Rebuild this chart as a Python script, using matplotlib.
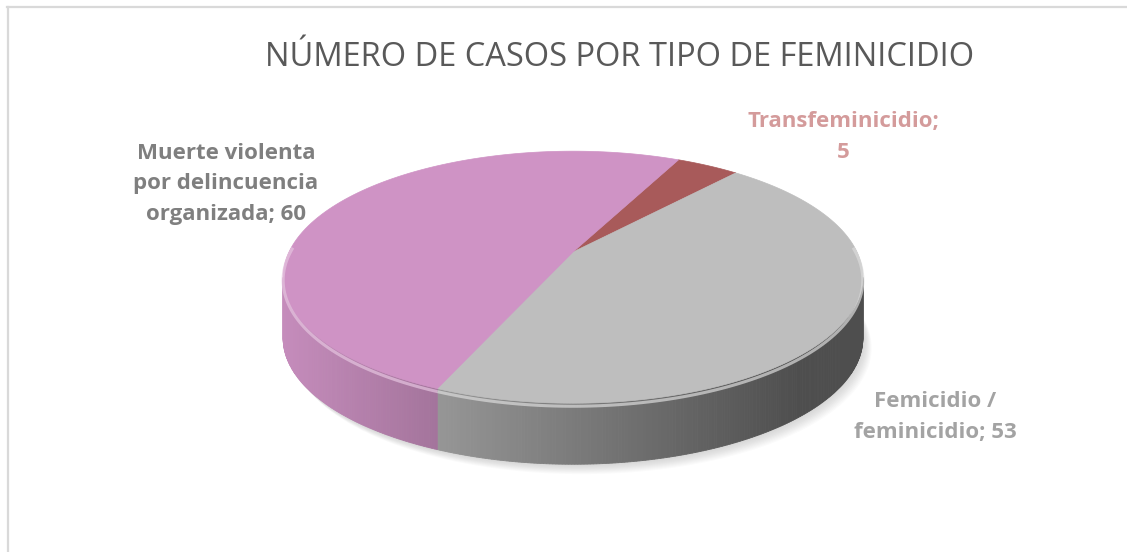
import numpy as np
import matplotlib.pyplot as plt
from matplotlib.patches import Polygon
from matplotlib.lines import Line2D
import matplotlib.colors as mcolors

# datos
categorias = ['Transfeminicidio', 'Femicidio / feminicidio',
              'Muerte violenta por delincuencia organizada']
casos = [5, 53, 60]
etiquetas = ['Transfeminicidio;\n{}', 'Femicidio /\nfeminicidio; {}',
             'Muerte violenta\npor delincuencia\norganizada; {}']
colores = ['#A85A5A', '#BEBEBE', '#CF93C5']
colores_texto = ['#D49B9B', '#A3A3A3', '#7F7F7F']
titulo = 'NÚMERO DE CASOS POR TIPO DE FEMINICIDIO'

# geometria del pastel 3D (en pixeles)
CX, CY, A, B, K, DEPTH = 573, 252, 284, 121, 0.2, 61
inicio = 26.0


def proy(theta):
    t = np.radians(theta)
    u, f = np.sin(t), np.cos(t)
    s = 1 / (1 + K * f)
    return CX + A * u * s, CY - B * f * s


def sombra(x):
    return np.clip(0.95 - 0.54 * (x - 285) / 515, 0.41, 0.95)


fig = plt.figure(figsize=(11.27, 5.52), dpi=100)
ax = fig.add_axes([0, 0, 1, 1])
ax.set_xlim(0, 1127)
ax.set_ylim(552, 0)
ax.axis('off')

total = sum(casos)
angulos = np.cumsum([0] + [c / total * 360 for c in casos]) + inicio

# sombra suave
th = np.linspace(0, 360, 200)
ex, ey = proy(th)
for d in range(1, 12):
    ax.add_patch(Polygon(np.column_stack([ex + d * 0.8, ey + DEPTH + d * 0.9]),
                         closed=True, facecolor='#909090', edgecolor='none',
                         alpha=0.035, zorder=1))

# lateral visible
t_vis = np.degrees(np.arccos(-K))
vis0, vis1 = t_vis, 360 - t_vis
for i in range(len(casos)):
    for off in (0, 360):
        a0 = max(angulos[i], vis0 + off)
        a1 = min(angulos[i + 1], vis1 + off)
        if a1 <= a0:
            continue
        ts = np.linspace(a0, a1, max(int((a1 - a0) * 2), 2))
        base = np.array(mcolors.to_rgb(colores[i]))
        for t0, t1 in zip(ts[:-1], ts[1:]):
            x0, y0 = proy(t0)
            x1, y1 = proy(t1)
            c = base * sombra((x0 + x1) / 2)
            ax.add_patch(Polygon([(x0, y0), (x1, y1), (x1, y1 + DEPTH), (x0, y0 + DEPTH)],
                                 closed=True, facecolor=c, edgecolor=c,
                                 linewidth=0.6, zorder=2))

# cara superior
for i in range(len(casos)):
    ts = np.linspace(angulos[i], angulos[i + 1], 120)
    px, py = proy(ts)
    pts = np.vstack([[CX, CY], np.column_stack([px, py])])
    ax.add_patch(Polygon(pts, closed=True, facecolor=colores[i],
                         edgecolor=colores[i], linewidth=0.5, zorder=3))

# brillo del borde
for i in range(len(casos)):
    for off in (0, 360):
        a0 = max(angulos[i], vis0 - 15 + off)
        a1 = min(angulos[i + 1], vis1 + 15 + off)
        if a1 <= a0:
            continue
        ts = np.linspace(a0, a1, 100)
        px, py = proy(ts)
        claro = 0.55 * np.array(mcolors.to_rgb(colores[i])) + 0.45
        ax.plot(px, py + 3, color=claro, lw=2.2, alpha=0.7, zorder=4,
                solid_capstyle='butt')

# etiquetas
pos_etiquetas = [(843, 137), (935, 417), (226, 184)]
for i, (x, y) in enumerate(pos_etiquetas):
    ax.text(x, y, etiquetas[i].format(casos[i]), ha='center', va='center',
            fontsize=16, fontweight='bold', family='Open Sans',
            color=colores_texto[i], linespacing=1.6, zorder=5)

ax.text(620, 58, titulo, ha='center', va='center', fontsize=23.5,
        family='Open Sans', color='#595959', zorder=5)

# borde del area del grafico
ax.add_line(Line2D([7.5, 7.5], [7, 552], color='#D9D9D9', lw=1.6))
ax.add_line(Line2D([7, 1127], [7, 7], color='#D9D9D9', lw=1.6))

fig.savefig('out.png', dpi=100)
